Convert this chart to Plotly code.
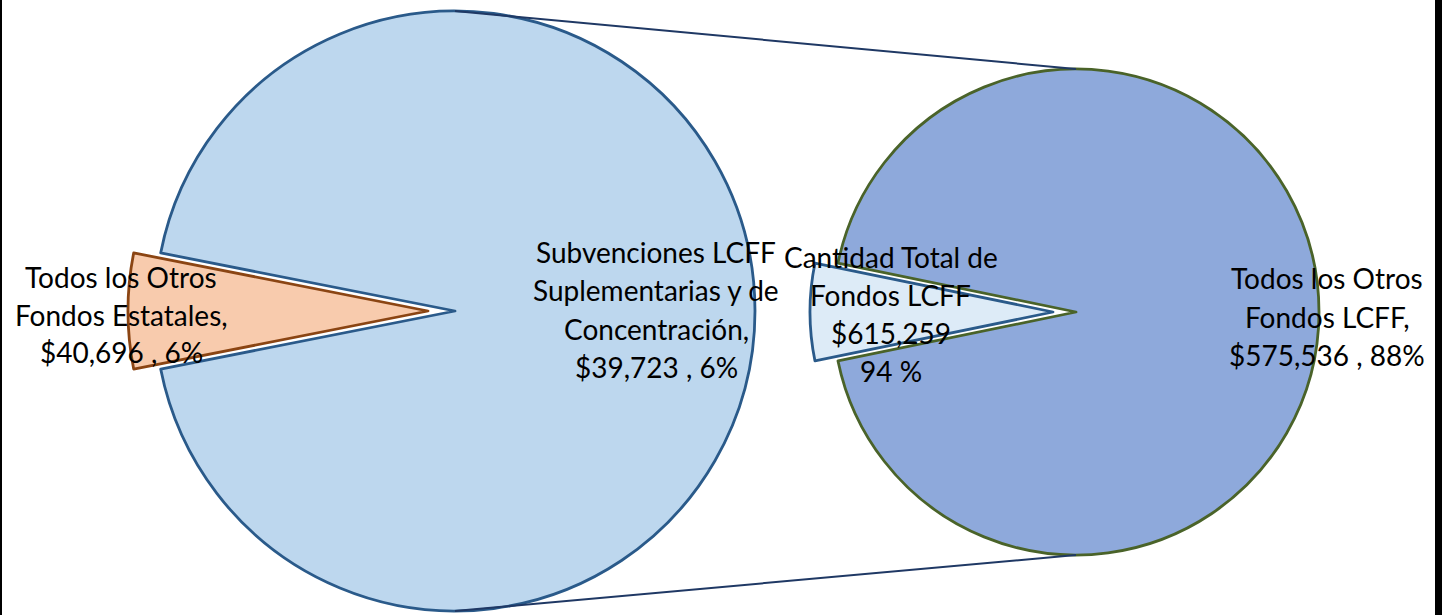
import plotly.graph_objects as go

# ---- data ----
left_labels = ["Todos los Otros Fondos Estatales", "Cantidad Total de Fondos LCFF"]
left_values = [40696, 615259]
right_labels = ["Subvenciones LCFF Suplementarias y de Concentración", "Todos los Otros Fondos LCFF"]
right_values = [39723, 575536]

grand_total = sum(left_values)

# label lines (text only; numbers formatted from the data)
def money(v):
    return "${:,}".format(v)

def pct(v):
    return round(v / grand_total * 100)

label_lines = {
    "orange": ["Todos los Otros", "Fondos Estatales,", f"{money(left_values[0])} , {pct(left_values[0])}%"],
    "subv": ["Subvenciones LCFF", "Suplementarias y de", "Concentración,", f"{money(right_values[0])} , {pct(right_values[0])}%"],
    "total": ["Cantidad Total de", "Fondos LCFF", f"{money(left_values[1])}", f"{pct(left_values[1])} %"],
    "other": ["Todos los Otros", "Fondos LCFF,", f"{money(right_values[1])} , {pct(right_values[1])}%"],
}

# ---- layout geometry (pixels) ----
W, H = 1442, 615
L_CX, L_CY, L_R, L_PULL = 455, 311, 300, 27
R_CX, R_CY, R_R, R_PULL = 1076, 312, 243, 23

def dom(cx, cy, r):
    return dict(x=[(cx - r) / W, (cx + r) / W], y=[(H - (cy + r)) / H, (H - (cy - r)) / H])

def rot(values, idx):
    ang = values[idx] / sum(values) * 360
    return 270 - ang / 2

C_LBLUE = "#BDD7EE"
C_LBLUE_LINE = "#2A5A8A"
C_ORANGE = "#F8CBAD"
C_ORANGE_LINE = "#8B4513"
C_DBLUE = "#8EA9DB"
C_GREEN_LINE = "#4A6329"
C_PALE = "#DDEBF7"
T = "rgba(0,0,0,0)"
LW = 2.8

fig = go.Figure()

# left pie: big slice
fig.add_trace(go.Pie(
    labels=left_labels, values=left_values, sort=False, direction="clockwise",
    rotation=rot(left_values, 0), domain=dom(L_CX, L_CY, L_R),
    marker=dict(colors=[T, C_LBLUE], line=dict(color=[T, C_LBLUE_LINE], width=[0, LW])),
    textinfo="none", hoverinfo="skip", showlegend=False,
))
# left pie: exploded small slice
fig.add_trace(go.Pie(
    labels=left_labels, values=left_values, sort=False, direction="clockwise",
    rotation=rot(left_values, 0), domain=dom(L_CX - L_PULL, L_CY, L_R),
    marker=dict(colors=[C_ORANGE, T], line=dict(color=[C_ORANGE_LINE, T], width=[LW, 0])),
    textinfo="none", hoverinfo="skip", showlegend=False,
))
# right pie: big slice
fig.add_trace(go.Pie(
    labels=right_labels, values=right_values, sort=False, direction="clockwise",
    rotation=rot(right_values, 0), domain=dom(R_CX, R_CY, R_R),
    marker=dict(colors=[T, C_DBLUE], line=dict(color=[T, C_GREEN_LINE], width=[0, LW])),
    textinfo="none", hoverinfo="skip", showlegend=False,
))
# right pie: exploded small slice
fig.add_trace(go.Pie(
    labels=right_labels, values=right_values, sort=False, direction="clockwise",
    rotation=rot(right_values, 0), domain=dom(R_CX - R_PULL, R_CY, R_R),
    marker=dict(colors=[C_PALE, T], line=dict(color=[C_LBLUE_LINE, T], width=[LW, 0])),
    textinfo="none", hoverinfo="skip", showlegend=False,
))

shapes = [
    dict(type="line", xref="paper", yref="paper",
         x0=L_CX / W, y0=(H - (L_CY - L_R)) / H, x1=R_CX / W, y1=(H - (R_CY - R_R)) / H,
         line=dict(color="#1F3864", width=2)),
    dict(type="line", xref="paper", yref="paper",
         x0=L_CX / W, y0=(H - (L_CY + L_R)) / H, x1=R_CX / W, y1=(H - (R_CY + R_R)) / H,
         line=dict(color="#1F3864", width=2)),
    dict(type="rect", xref="paper", yref="paper", x0=0, x1=2 / W, y0=0, y1=1,
         fillcolor="black", line=dict(width=0)),
    dict(type="rect", xref="paper", yref="paper", x0=1435 / W, x1=1, y0=0, y1=1,
         fillcolor="black", line=dict(width=0)),
]

# label placement (center x, first line y, line step) in pixels
label_pos = {
    "orange": (121, 277, 37.5),
    "subv": (656, 252, 38.3),
    "total": (891, 257, 38.0),
    "other": (1327, 278, 38.5),
}
annotations = []
for key, lines in label_lines.items():
    cx, y0, step = label_pos[key]
    for i, txt in enumerate(lines):
        annotations.append(dict(
            text=txt, x=cx / W, y=(H - (y0 + i * step)) / H, xref="paper", yref="paper",
            xanchor="center", yanchor="middle", showarrow=False,
            font=dict(family="Lato", size=28, color="black"),
        ))

fig.update_layout(
    width=W, height=H, margin=dict(l=0, r=0, t=0, b=0),
    paper_bgcolor="white", plot_bgcolor="white",
    shapes=shapes, annotations=annotations,
)

fig.write_html(
    "out.html",
    config={"displayModeBar": False},
    post_script="document.body.style.margin='0';document.body.style.overflow='hidden';",
)
